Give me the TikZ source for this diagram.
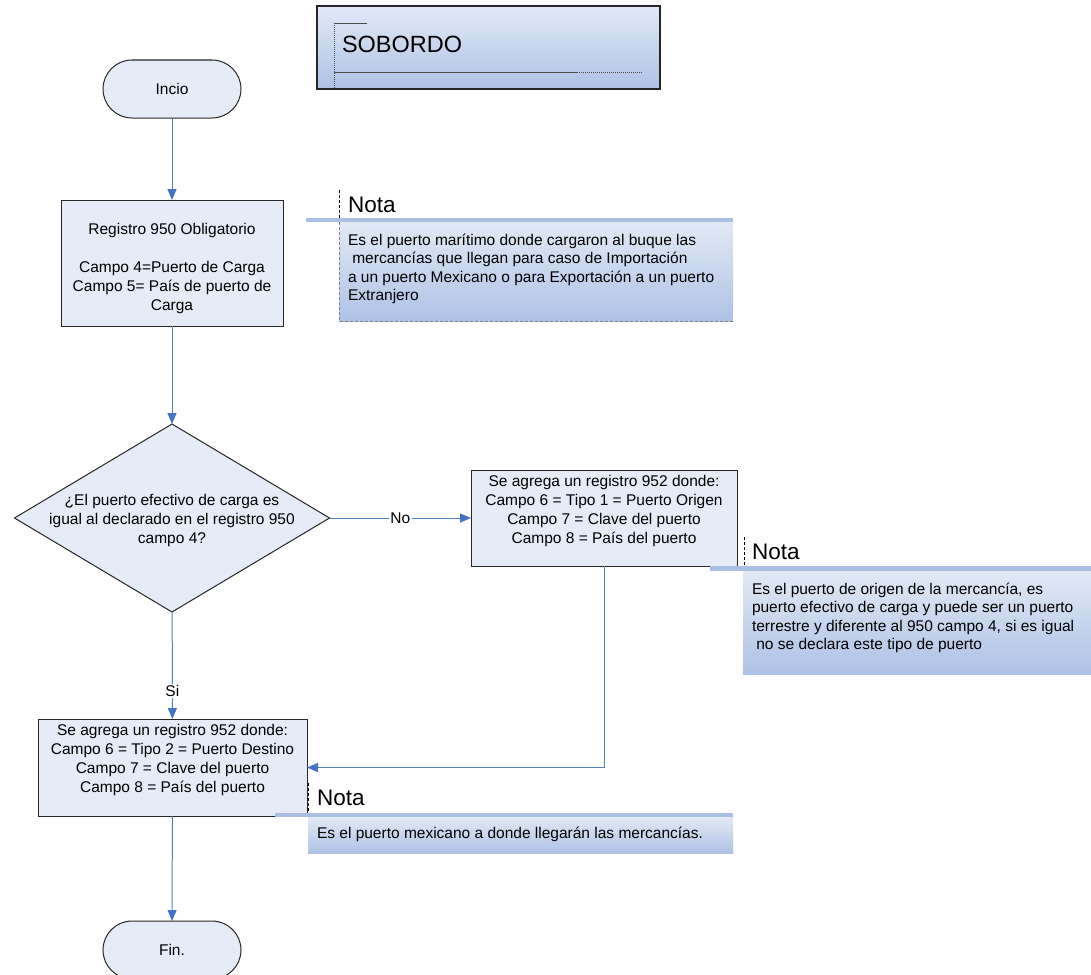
\documentclass[tikz,border=0pt]{standalone}
\usepackage{fontspec}
\setmainfont{Liberation Sans}
\usetikzlibrary{arrows.meta,shapes.geometric,shapes.misc}
\definecolor{boxfill}{HTML}{E6ECF7}
\definecolor{connc}{HTML}{4F81BD}
\definecolor{arrowc}{HTML}{4472C4}
\definecolor{ntop}{HTML}{E2E9F5}
\definecolor{nbot}{HTML}{ADC2E5}
\definecolor{barc}{HTML}{A9BFE3}
\begin{document}
\begin{tikzpicture}[x=1pt,y=-1pt,
  every node/.style={inner sep=0pt,outer sep=0pt},
  txt/.style={font=\fontsize{15.5}{19}\selectfont, align=center},
  ntxt/.style={font=\fontsize{15.5}{18.5}\selectfont, align=left, anchor=west},
  notatitle/.style={font=\fontsize{22.5}{26}\selectfont, anchor=west},
  procbox/.style={draw=black!85, line width=1pt, fill=boxfill, rectangle, anchor=north west},
  term/.style={draw=black!85, line width=1pt, fill=boxfill, rounded rectangle, minimum width=138pt, minimum height=58pt, font=\fontsize{15.5}{19}\selectfont},
  connline/.style={draw=connc, line width=1pt},
  arr/.style={connline, -{Triangle[length=11pt,width=9pt,color=arrowc]}},
  lbl/.style={fill=white, font=\fontsize{15.5}{19}\selectfont, inner sep=1.5pt},
  notebar/.style={fill=barc},
  notebody/.style={top color=ntop, bottom color=nbot},
  notedash/.style={draw=black, line width=1pt, densely dashed},
]
\useasboundingbox (0,0) rectangle (1091,974);

% title block
\node[draw=black!85, line width=1.2pt, top color=ntop, bottom color=nbot, minimum width=343pt, minimum height=83pt, anchor=north west] (sob) at (317,6) {};
\draw[black!70, densely dotted, line width=1pt] (334,23) -- (334,89);
\draw[black!70, line width=0.9pt] (334,23) -- (367,23);
\draw[black!70, line width=0.9pt] (334,72) -- (577,72);
\draw[black!70, densely dotted, line width=1pt] (577,72) -- (643,72);
\node[font=\fontsize{23.5}{28}\selectfont, anchor=west] (sobt) at (342,44) {SOBORDO};

% flow nodes
\node[term] (ini) at (172,89) {Incio};
\node[procbox, minimum width=222pt, minimum height=126pt] (reg) at (61,200) {};
\node[txt] (regtxt) at (172,268) {Registro 950 Obligatorio\\[19pt]Campo 4=Puerto de Carga\\Campo 5= País de puerto de\\Carga};
\node[diamond, draw=black!85, line width=1pt, fill=boxfill, minimum width=315pt, minimum height=188pt] (dec) at (172,518) {};
\node[txt] (dectxt) at (172,520) {¿El puerto efectivo de carga es\\igual al declarado en el registro 950\\campo 4?};
\node[procbox, minimum width=266pt, minimum height=96pt] (b2) at (471,470) {};
\node[txt] (b2txt) at (604,511) {Se agrega un registro 952 donde:\\Campo 6 = Tipo 1 = Puerto Origen\\Campo 7 = Clave del puerto\\Campo 8 = País del puerto};
\node[procbox, minimum width=269pt, minimum height=97pt] (b3) at (38,719) {};
\node[txt] (b3txt) at (172.5,760) {Se agrega un registro 952 donde:\\Campo 6 = Tipo 2 = Puerto Destino\\Campo 7 = Clave del puerto\\Campo 8 = País del puerto};
\node[term] (fin) at (172,950) {Fin.};

% connectors
\draw[arr] (ini) -- (reg);
\draw[arr] (reg) -- (dec);
\draw[arr] (dec) -- node[lbl] (nolbl) {No} (b2);
\draw[arr] (dec) -- node[lbl, pos=0.74] (silbl) {Si} (b3);
\draw[arr] (b2.south) |- (b3.east);
\draw[arr] (b3) -- (fin);

% note 1
\fill[notebody] (339,222) rectangle (733,321);
\fill[notebar] (306,218) rectangle (733,222);
\draw[notedash] (339,190) -- (339,218);
\draw[gray, densely dashed, line width=0.8pt] (339,222) -- (339,321) -- (733,321);
\node[notatitle] (n1t) at (348,205) {Nota};
\node[ntxt] (n1) at (348,269) {Es el puerto marítimo donde cargaron al buque las\\\ mercancías que llegan para caso de Importación\\a un puerto Mexicano o para Exportación a un puerto\\Extranjero};

% note 2
\fill[notebody] (743,571) rectangle (1091,674);
\fill[notebar] (710,566) rectangle (1091,571);
\draw[notedash] (744,537) -- (744,566);
\node[notatitle] (n2t) at (752,552) {Nota};
\node[ntxt] (n2) at (752,618) {Es el puerto de origen de la mercancía, es\\puerto efectivo de carga y puede ser un puerto\\terrestre y diferente al 950 campo 4, si es igual\\\ no se declara este tipo de puerto};

% note 3
\fill[notebody] (308,817) rectangle (733,853);
\fill[notebar] (275,813) rectangle (733,817);
\draw[notedash] (308,783) -- (308,813);
\node[notatitle] (n3t) at (317,798) {Nota};
\node[ntxt] (n3) at (317,834) {Es el puerto mexicano a donde llegarán las mercancías.};
\end{tikzpicture}
\end{document}
